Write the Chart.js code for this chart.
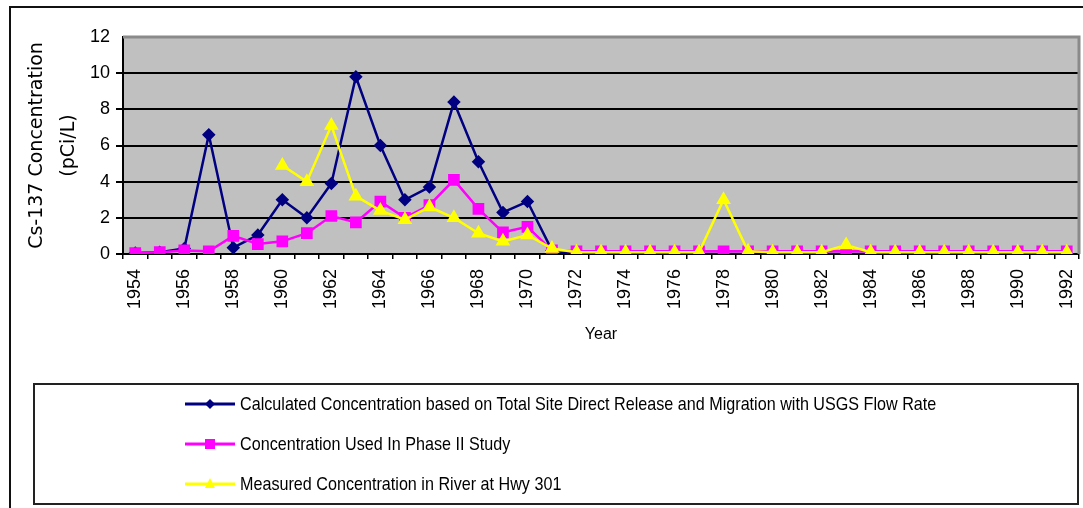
<!DOCTYPE html>
<html><head><meta charset="utf-8">
<script src="https://cdn.jsdelivr.net/npm/chart.js@4"></script>
<style>
html,body{margin:0;padding:0;background:#fff;}
#wrap{position:relative;width:1083px;height:508px;overflow:hidden;background:#fff;}
#c{position:absolute;left:0;top:0;}
#frame{position:absolute;left:9px;top:6px;width:1200px;height:700px;border-left:2px solid #111;border-top:2px solid #111;pointer-events:none;}
#legend{position:absolute;left:33px;top:383px;width:1042px;height:118px;border:2px solid #222;}
.item{position:absolute;left:150px;height:24px;display:flex;align-items:center;font-family:"Liberation Sans",Arial,sans-serif;font-size:19px;color:#000;white-space:nowrap;}
.item svg{margin-right:5px;flex:none;}
.item span{display:inline-block;transform:scaleX(0.85);transform-origin:0 50%;}
</style></head>
<body>
<div id="wrap">
<canvas id="c" width="1088" height="508"></canvas>
<div id="frame"></div>
<div id="legend"></div>
</div>
<script>
const years = ["1954","1955","1956","1957","1958","1959","1960","1961","1962","1963",
"1964","1965","1966","1967","1968","1969","1970","1971","1972","1973",
"1974","1975","1976","1977","1978","1979","1980","1981","1982","1983",
"1984","1985","1986","1987","1988","1989","1990","1991","1992"];

const calculated = [0.05,0.1,0.3,6.6,0.35,1.05,3.0,2.0,3.9,9.8,
6.0,3.0,3.7,8.4,5.1,2.3,2.9,0.2,0,0,
0,0,0,0,0,0,0,0,0,0,
0,0,0,0,0,0,0,0,0];

const phaseII = [0.05,0.1,0.2,0.15,1.0,0.55,0.7,1.15,2.1,1.75,
2.9,2.0,2.7,4.1,2.5,1.2,1.5,0.2,0.15,0.15,
0.15,0.15,0.15,0.15,0.15,0.15,0.15,0.15,0.15,0.15,
0.15,0.15,0.15,0.15,0.15,0.15,0.15,0.15,0.15];

const measured = [null,null,null,null,null,null,4.9,4.0,7.1,3.2,
2.4,1.9,2.6,2.0,1.15,0.7,1.05,0.3,0.1,0.1,
0.1,0.1,0.1,0.1,3.0,0.15,0.1,0.1,0.1,0.5,
0.1,0.1,0.1,0.1,0.1,0.1,0.1,0.1,0.1];

const seriesNames = [
 "Calculated Concentration based on Total Site Direct Release and Migration with USGS Flow Rate",
 "Concentration Used In Phase II Study",
 "Measured Concentration in River at Hwy 301"
];
const yTicks = [0,2,4,6,8,10,12];
const yTitle = ["Cs-137 Concentration","(pCi/L)"];
const xTitle = "Year";

const plotBg = {
  id:'plotBg',
  beforeDraw(chart){
    const {ctx, chartArea:a} = chart;
    ctx.save();
    ctx.fillStyle = '#c0c0c0';
    ctx.fillRect(a.left, a.top, a.right-a.left, a.bottom-a.top);
    ctx.restore();
  },
  afterDraw(chart){
    const {ctx, chartArea:a} = chart;
    ctx.save();
    ctx.strokeStyle = '#8a8a8a';
    ctx.lineWidth = 3;
    ctx.beginPath();
    ctx.moveTo(a.left, a.top); ctx.lineTo(a.right, a.top); ctx.lineTo(a.right, a.bottom);
    ctx.stroke();
    ctx.restore();
  }
};

const chart = new Chart(document.getElementById('c'), {
  type:'line',
  data:{
    labels: years,
    datasets:[
      {label:seriesNames[0], data:calculated, borderColor:'#000080', backgroundColor:'#000080',
       borderWidth:2.5, pointStyle:'rectRot', pointRadius:5, order:2},
      {label:seriesNames[1], data:phaseII, borderColor:'#ff00ff', backgroundColor:'#ff00ff',
       borderWidth:2.5, pointStyle:'rect', pointRadius:6.5, order:1},
      {label:seriesNames[2], data:measured, borderColor:'#ffff00', backgroundColor:'#ffff00',
       borderWidth:2.5, pointStyle:'triangle', pointRadius:6, order:0}
    ]
  },
  options:{
    responsive:false, animation:false,
    layout:{padding:{left:0,top:37,right:0,bottom:164}},
    plugins:{legend:{display:false}, tooltip:{enabled:false}},
    elements:{line:{tension:0}, point:{borderWidth:1}},
    scales:{
      x:{
        offset:true,
        grid:{offset:true, drawOnChartArea:false, drawTicks:true, tickLength:5, color:'#000', lineWidth:1.5},
        border:{display:true, color:'#000', width:2},
        ticks:{autoSkip:false, maxRotation:90, minRotation:90, padding:10, color:'#000',
          font:{family:'"Liberation Sans", Arial, sans-serif', size:18},
          callback:(v,i)=> i%2===0 ? years[i] : ''},
        title:{display:true, text:xTitle, color:'#000', padding:{top:4,bottom:0},
          font:{family:'"Liberation Sans", Arial, sans-serif', size:16}},
        afterFit(s){ s.height = 90; s.paddingLeft = 0; s.paddingRight = 0; }
      },
      y:{
        min:0, max:12,
        afterBuildTicks(s){ s.ticks = yTicks.map(v=>({value:v})); },
        grid:{color:(c)=> c.tick && c.tick.value===12 ? 'rgba(0,0,0,0)' : '#000', lineWidth:2, tickLength:7, drawTicks:true},
        border:{display:true, color:'#000', width:2},
        ticks:{padding:6, color:'#000', font:{family:'"Liberation Sans", Arial, sans-serif', size:18}},
        title:{display:true, text:yTitle, color:'#000', padding:{top:21,bottom:0},
          font:{family:'"DejaVu Sans", sans-serif', size:19, lineHeight:1.7}},
        afterFit(s){ s.width = 123; }
      }
    }
  },
  plugins:[plotBg]
});

// HTML legend built from the chart's datasets
const legend = document.getElementById('legend');
const rowY = [7, 47, 87];
chart.data.datasets.forEach((ds, i) => {
  const it = document.createElement('div');
  it.className = 'item';
  it.style.top = rowY[i] + 'px';
  const c = ds.borderColor;
  let marker = '';
  if (ds.pointStyle === 'rectRot') marker = `<polygon points="25,3 30,8 25,13 20,8" fill="${c}"/>`;
  else if (ds.pointStyle === 'rect') marker = `<rect x="20" y="3" width="10" height="10" fill="${c}"/>`;
  else marker = `<polygon points="25,2 30,12 20,12" fill="${c}"/>`;
  it.innerHTML = `<svg width="50" height="16" viewBox="0 0 50 16"><line x1="0" y1="8" x2="50" y2="8" stroke="${c}" stroke-width="3"/>${marker}</svg><span>${ds.label}</span>`;
  legend.appendChild(it);
});
</script>
</body></html>
